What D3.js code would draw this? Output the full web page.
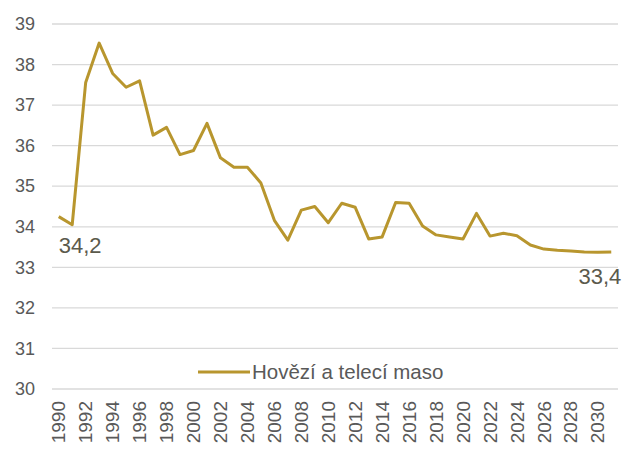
<!DOCTYPE html>
<html><head><meta charset="utf-8">
<script src="https://cdn.jsdelivr.net/npm/d3@7"></script>
<style>body{margin:0;background:#fff}svg{display:block}</style>
</head><body>
<svg id="c" width="622" height="452"></svg>
<script>
const years = d3.range(1990, 2032);
const values = [34.25,34.05,37.56,38.53,37.78,37.44,37.6,36.26,36.45,35.78,35.88,36.55,35.7,35.47,35.47,35.08,34.16,33.67,34.41,34.5,34.1,34.58,34.48,33.7,33.75,34.6,34.58,34.02,33.8,33.75,33.7,34.33,33.77,33.84,33.78,33.55,33.45,33.42,33.4,33.38,33.37,33.38];
const yTicks = [30,31,32,33,34,35,36,37,38,39];
const xTickYears = d3.range(1990, 2031, 2);
const seriesName = "Hovězí a telecí maso";
const labelled = [{year:1990, text:"34,2"}, {year:2031, text:"33,4"}];

const svg = d3.select("#c");
const x = d3.scaleBand().domain(years).range([52, 618]).padding(0);
const y = d3.scaleLinear().domain([30, 39]).range([389, 24]);
const cx = d => x(d) + x.bandwidth()/2;
const font = "'Liberation Sans', Arial, sans-serif";

// gridlines
svg.append("g").selectAll("line").data(yTicks).join("line")
  .attr("x1", 52).attr("x2", 618)
  .attr("y1", d => y(d)).attr("y2", d => y(d))
  .attr("stroke", "#d9d9d9").attr("stroke-width", 1.3);

// y axis labels
const yAxis = d3.axisLeft(y).tickValues(yTicks).tickSize(0).tickPadding(0).tickFormat(d => d);
const gy = svg.append("g").attr("transform", "translate(35,0)").call(yAxis);
gy.select(".domain").remove();
gy.selectAll("text").attr("font-family", font).attr("font-size", 18).attr("fill", "#595959");

// x axis labels
const xAxis = d3.axisBottom(x).tickValues(xTickYears).tickSize(0).tickPadding(0);
const gx = svg.append("g").attr("transform", "translate(0,401)").call(xAxis);
gx.select(".domain").remove();
gx.selectAll("text")
  .attr("font-family", font).attr("font-size", 19).attr("fill", "#595959")
  .attr("transform", "rotate(-90)")
  .attr("text-anchor", "end").attr("x", 0).attr("y", 0).attr("dy", "0.35em")
  .attr("dx", "0");

// line
const line = d3.line().x((d,i) => cx(years[i])).y(d => y(d));
svg.append("path").datum(values).attr("d", line)
  .attr("fill", "none").attr("stroke", "#b8962e").attr("stroke-width", 3)
  .attr("stroke-linejoin", "round");

// data labels
svg.append("text").attr("x", cx(1990)).attr("y", y(values[0]) + 36)
  .attr("font-family", font).attr("font-size", 22).attr("fill", "#5b5a4c")
  .text(labelled[0].text);
svg.append("text").attr("x", cx(2031) + 10).attr("y", y(values[values.length-1]) + 32)
  .attr("text-anchor", "end")
  .attr("font-family", font).attr("font-size", 22).attr("fill", "#5b5a4c")
  .text(labelled[1].text);

// legend
const lg = svg.append("g");
lg.append("line").attr("x1", 198).attr("x2", 250).attr("y1", 372).attr("y2", 372)
  .attr("stroke", "#b8962e").attr("stroke-width", 3);
lg.append("text").attr("x", 252).attr("y", 379)
  .attr("font-family", font).attr("font-size", 20.5).attr("fill", "#595959")
  .text(seriesName);
</script>
</body></html>
